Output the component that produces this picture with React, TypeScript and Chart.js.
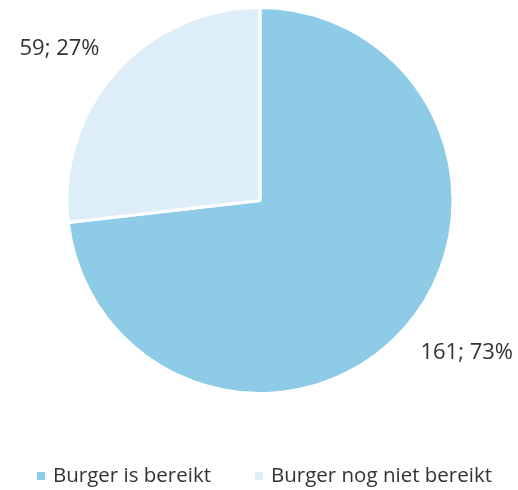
import React, { useEffect, useRef } from "react";
import { Chart, registerables } from "chart.js";

Chart.register(...registerables);

const categories = ["Burger is bereikt", "Burger nog niet bereikt"];
const values = [161, 59];
const percentLabels = ["73%", "27%"];
const colors = ["#8ecbe7", "#ddeef8"];

const FONT = "'Open Sans', sans-serif";
const TEXT_COLOR = "#333333";

const labelPlugin = {
  id: "outLabels",
  afterDatasetsDraw(chart: any) {
    const ctx = chart.ctx;
    const meta = chart.getDatasetMeta(0);
    ctx.save();
    ctx.font = `22px ${FONT}`;
    ctx.fillStyle = TEXT_COLOR;
    ctx.textBaseline = "middle";
    meta.data.forEach((arc: any, i: number) => {
      const mid = (arc.startAngle + arc.endAngle) / 2;
      const r = arc.outerRadius;
      const cx = Math.cos(mid);
      const sy = Math.sin(mid);
      const x = arc.x + cx * (r + 22);
      const y = arc.y + sy * (r + 35);
      ctx.textAlign = cx >= 0 ? "left" : "right";
      ctx.fillText(`${values[i]}; ${percentLabels[i]}`, x, y);
    });
    ctx.restore();
  },
};

const legendPlugin = {
  id: "customLegend",
  afterDraw(chart: any) {
    const ctx = chart.ctx;
    ctx.save();
    ctx.font = `20.5px ${FONT}`;
    ctx.textBaseline = "middle";
    ctx.textAlign = "left";
    const y = 476;
    const starts = [37, 255];
    categories.forEach((c, i) => {
      ctx.fillStyle = colors[i];
      ctx.fillRect(starts[i], y - 4, 8, 8);
      ctx.fillStyle = TEXT_COLOR;
      ctx.fillText(c, starts[i] + 16, y);
    });
    ctx.restore();
  },
};

export default function App() {
  const ref = useRef<HTMLCanvasElement>(null);
  useEffect(() => {
    if (!ref.current) return;
    const chart = new Chart(ref.current, {
      type: "pie",
      data: {
        labels: categories,
        datasets: [
          {
            data: values,
            backgroundColor: colors,
            borderColor: "#ffffff",
            borderWidth: 3,
          },
        ],
      },
      options: {
        animation: false,
        responsive: false,
        layout: { padding: { left: 2, right: 0, top: 6, bottom: 95 } },
        plugins: {
          legend: { display: false },
          tooltip: { enabled: false },
        },
      },
      plugins: [labelPlugin, legendPlugin],
    });
    return () => chart.destroy();
  }, []);
  return (
    <div style={{ width: 502, height: 474 }}>
      <div style={{ position: "fixed", left: 0, top: 0, width: 518, height: 490 }}>
        <canvas ref={ref} width={518} height={490} style={{ display: "block" }} />
      </div>
    </div>
  );
}
